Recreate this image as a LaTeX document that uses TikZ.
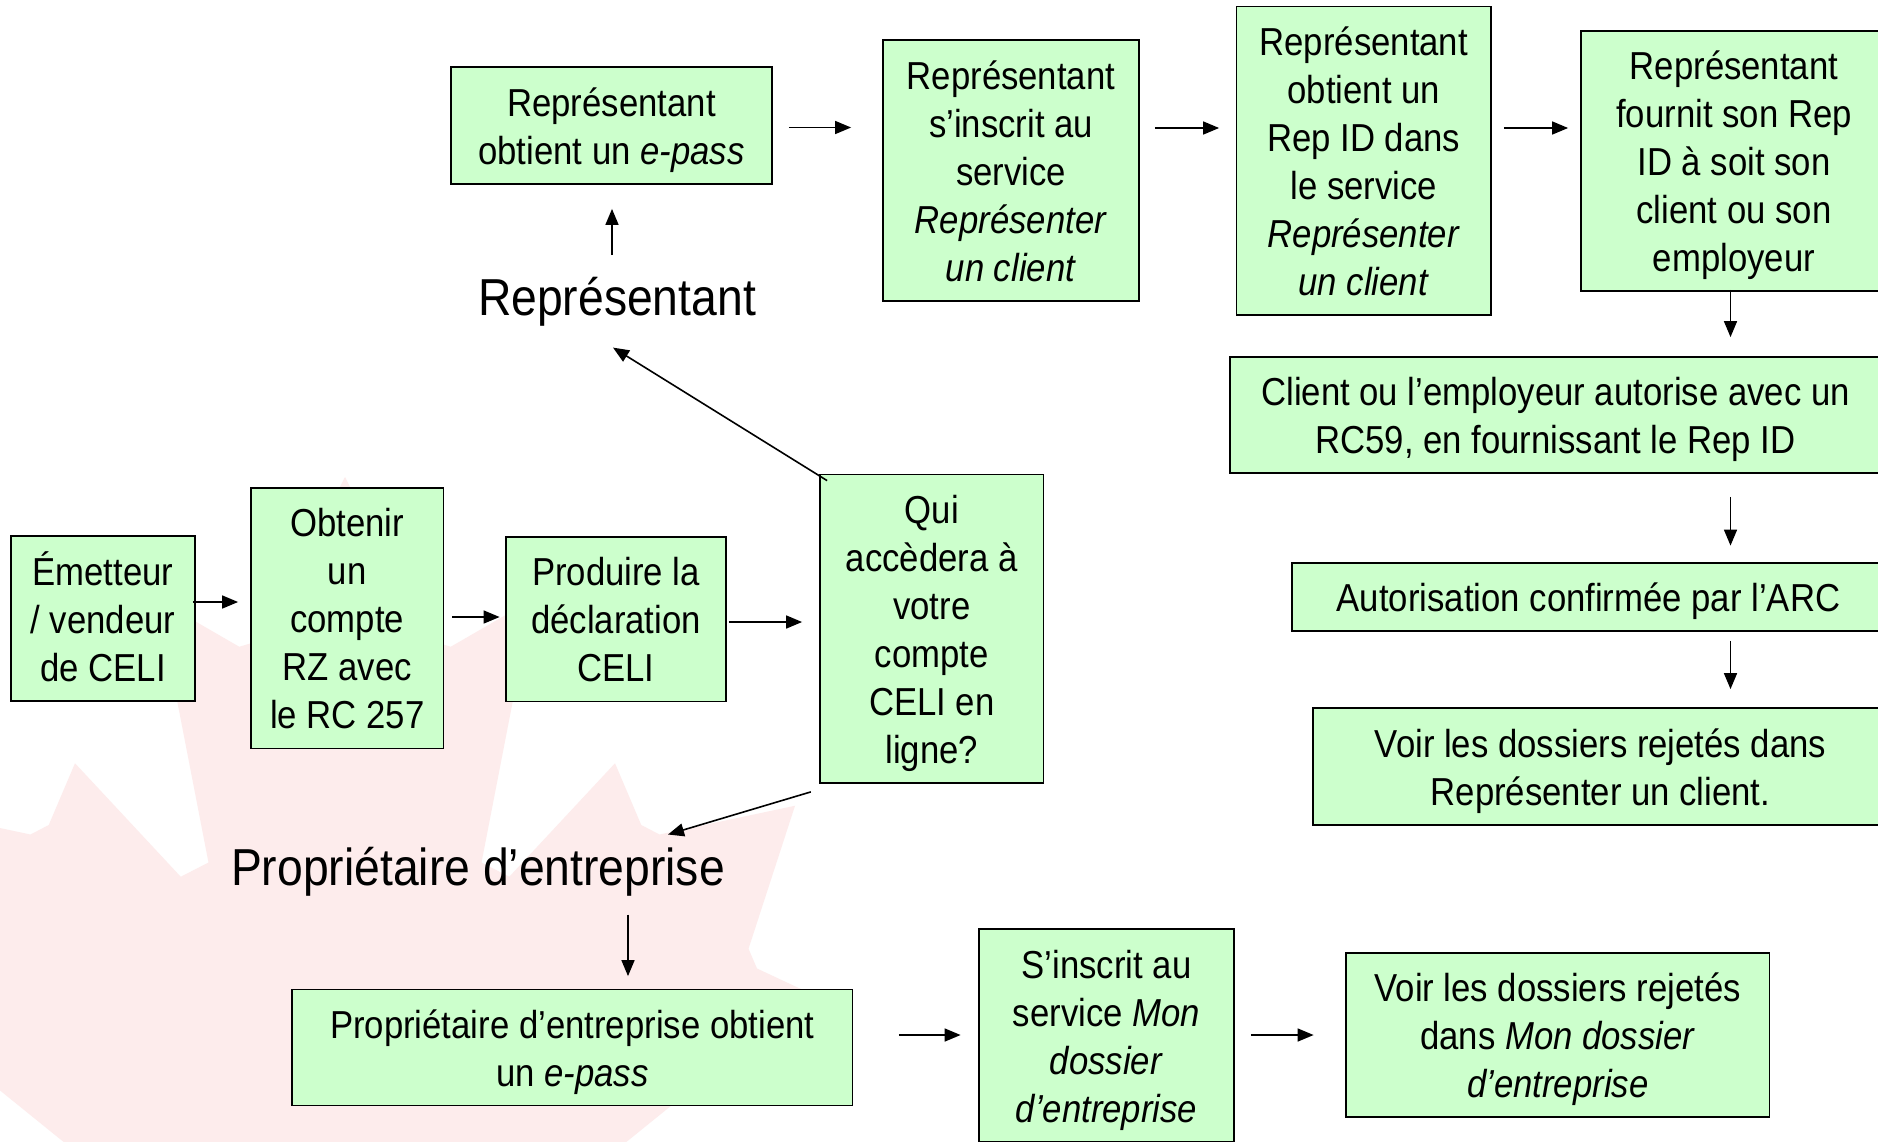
\documentclass[tikz,border=0pt]{standalone}
\usepackage{fontspec}
\setmainfont{Liberation Sans}[FakeStretch=0.89]
\usetikzlibrary{arrows.meta,calc}
\definecolor{boxgreen}{RGB}{204,255,204}
\definecolor{leafpink}{RGB}{253,236,236}
\newcommand\bxt[1]{\raisebox{-5pt}[\height][\depth]{\begin{tabular}{@{}c@{}}#1\end{tabular}}}
\begin{document}
\begin{tikzpicture}[x=1pt,y=-1pt,
  box/.style={draw=black, line width=1.8pt, fill=boxgreen, align=center, inner sep=0pt,
    font=\fontsize{39}{48}\selectfont},
  lbl/.style={inner sep=0pt, font=\fontsize{52}{60}\selectfont},
  arr/.style={line width=1.6pt, -{Triangle[length=16pt,width=13pt]}}]
\fill[white] (0,0) rectangle (1878,1141);
\useasboundingbox (0,0) rectangle (1878,1141);
% faint maple leaf watermark
\begin{scope}[shift={(345,977)}, scale=0.25]
\fill[leafpink] (-90,2030) -- (-45,1167) -- (-156,1069) -- (-1015,1220) -- (-899,900) -- (-919,827) -- (-1860,65) -- (-1648,-34) -- (-1614,-113) -- (-1800,-685) -- (-1258,-570) -- (-1185,-608) -- (-1080,-855) -- (-657,-401) -- (-546,-458) -- (-750,-1510) -- (-423,-1321) -- (-332,-1348) -- (0,-2000) -- (332,-1348) -- (423,-1321) -- (750,-1510) -- (546,-458) -- (657,-401) -- (1080,-855) -- (1185,-608) -- (1258,-570) -- (1800,-685) -- (1614,-113) -- (1648,-34) -- (1860,65) -- (919,827) -- (899,900) -- (1015,1220) -- (156,1069) -- (45,1167) -- (90,2030) -- cycle;
\end{scope}

% boxes
\node[box, minimum width=321pt, minimum height=117pt] (B1) at (611.5,125.5) {\bxt{Représentant\\obtient un \textit{e-pass}}};
\node[box, minimum width=256pt, minimum height=261pt] (B2) at (1011,170.5) {\bxt{Représentant\\s’inscrit au\\service\\\textit{Représenter}\\\textit{un client}}};
\node[box, minimum width=254.5pt, minimum height=308.5pt] (B3) at (1363.75,160.75) {\bxt{Représentant\\obtient un\\Rep ID dans\\le service\\\textit{Représenter}\\\textit{un client}}};
\node[box, minimum width=306pt, minimum height=260pt] (B4) at (1734,161) {\bxt{Représentant\\fournit son Rep\\ID à soit son\\client ou son\\employeur}};
\node[box, minimum width=651pt, minimum height=116pt] (B5) at (1555.5,415) {\bxt{Client ou l’employeur autorise avec un\\RC59, en fournissant le Rep ID}};
\node[box, minimum width=593pt, minimum height=68pt] (B6) at (1588.5,597) {\bxt{Autorisation confirmée par l’ARC}};
\node[box, minimum width=575pt, minimum height=117pt] (B7) at (1600.5,766.5) {\bxt{Voir les dossiers rejetés dans\\Représenter un client.}};
\node[box, minimum width=184pt, minimum height=165pt] (B8) at (103,618.5) {\bxt{Émetteur\\/ vendeur\\de CELI}};
\node[box, minimum width=192.5pt, minimum height=260.5pt] (B9) at (347.25,618.25) {\bxt{Obtenir\\un\\compte\\RZ avec\\le RC 257}};
\node[box, minimum width=220pt, minimum height=164.5pt] (B10) at (616,619.25) {\bxt{Produire la\\déclaration\\CELI}};
\node[box, minimum width=223.5pt, minimum height=308.5pt] (B11) at (931.75,628.75) {\bxt{Qui\\accèdera à\\votre\\compte\\CELI en\\ligne?}};
\node[box, minimum width=560.5pt, minimum height=116pt] (B12) at (572.25,1047.5) {\bxt{Propriétaire d’entreprise obtient\\un \textit{e-pass}}};
\node[box, minimum width=255pt, minimum height=213pt] (B13) at (1106.5,1035.5) {\bxt{S’inscrit au\\service \textit{Mon}\\\textit{dossier}\\\textit{d’entreprise}}};
\node[box, minimum width=423.5pt, minimum height=164pt] (B14) at (1557.75,1035) {\bxt{Voir les dossiers rejetés\\dans \textit{Mon dossier}\\\textit{d’entreprise}}};

% labels
\node[lbl, anchor=base] (Rep) at (617,315.6) {Représentant};
\node[lbl, anchor=base] (PE) at (478,885) {Propriétaire d’entreprise};

% arrows
\draw[arr] ($(B1.east)+(16,2)$) -- ($(B1.east -| B2.west)+(-31,2)$);
\draw[arr] ($(B2.east)+(15,-42.5)$) -- ($(B2.east -| B3.west)+(-16.5,-42.5)$);
\draw[arr] ($(B3.east)+(12,-32.75)$) -- ($(B3.east -| B4.west)+(-12,-32.75)$);
\draw[arr] ($(Rep.north -| B1.south)+(0.5,-22)$) -- ($(B1.south)+(0.5,24)$);
\draw[arr] ($(B11.north west)+(8,7)$) -- ($(Rep.south)+(-4,21)$);
\draw[arr] ($(B4.south)+(-3.5,-2)$) -- ($(B5.north -| B4.south)+(-3.5,-19)$);
\draw[arr] ($(B5.south -| B4.south)+(-3.5,23)$) -- ($(B6.north -| B4.south)+(-3.5,-16.5)$);
\draw[arr] ($(B6.south -| B4.south)+(-3.5,9)$) -- ($(B7.north -| B4.south)+(-3.5,-18)$);
\draw[arr] ($(B8.east)+(-3,-16.5)$) -- ($(B8.east -| B9.west)+(-12,-16.5)$);
\draw[arr] ($(B9.east)+(8,-1.25)$) -- ($(B9.east -| B10.west)+(-5.5,-1.25)$);
\draw[arr] ($(B10.east)+(2,2.75)$) -- ($(B10.east -| B11.west)+(-17,2.75)$);
\draw[arr] ($(B11.south west)+(-8.3,8)$) -- ($(PE.north)+(190,-12)$);
\draw[arr] ($(PE.south -| B12.north)+(55.75,18.6)$) -- ($(B12.north)+(55.75,-12.5)$);
\draw[arr] ($(B12.east)+(45.5,-12.5)$) -- ($(B12.east -| B13.west)+(-17.5,-12.5)$);
\draw[arr] ($(B13.east)+(16,-0.5)$) -- ($(B13.east -| B14.west)+(-31.5,-0.5)$);
\end{tikzpicture}
\end{document}
